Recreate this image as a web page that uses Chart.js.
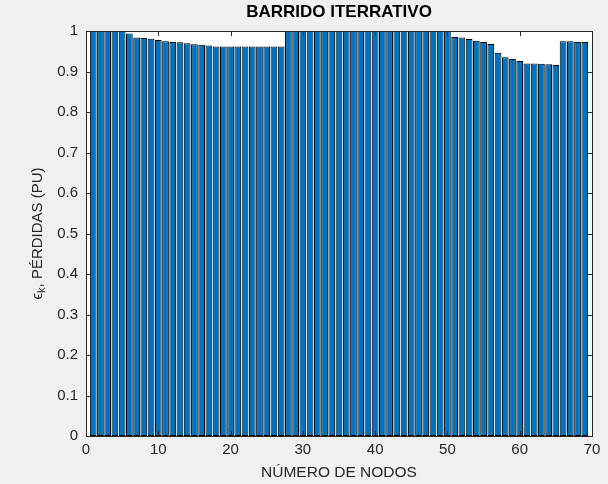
<!DOCTYPE html>
<html>
<head>
<meta charset="utf-8">
<script src="https://cdn.jsdelivr.net/npm/chart.js@4/dist/chart.umd.min.js"></script>
<style>
  html, body { margin: 0; padding: 0; background: #f0f0f0; }
  #wrap { width: 608px; height: 484px; }
</style>
</head>
<body>
<div id="wrap"><canvas id="c" width="608" height="484"></canvas></div>
<script>
const chartTitle = 'BARRIDO ITERRATIVO';
const xTitle = 'NÚMERO DE NODOS';
const yTitleMain = 'ϵ';
const yTitleSub = 'k';
const yTitleRest = ', PÉRDIDAS (PU)';

const nodes = [1,2,3,4,5,6,7,8,9,10,11,12,13,14,15,16,17,18,19,20,21,22,23,24,25,26,27,28,29,30,31,32,33,34,35,36,37,38,39,40,41,42,43,44,45,46,47,48,49,50,51,52,53,54,55,56,57,58,59,60,61,62,63,64,65,66,67,68,69];
const losses = [
  1, 1, 1, 1, 1,
  0.994, 0.984, 0.983, 0.981, 0.978, 0.975, 0.973, 0.972, 0.970, 0.967, 0.966, 0.964,
  0.962, 0.962, 0.962, 0.962, 0.962, 0.962, 0.962, 0.962, 0.962, 0.962,
  1, 1, 1, 1, 1, 1, 1, 1, 1, 1, 1, 1, 1, 1, 1, 1, 1, 1, 1, 1, 1, 1, 1,
  0.985, 0.984, 0.980, 0.976, 0.973, 0.968, 0.946, 0.935, 0.931, 0.926,
  0.920, 0.920, 0.919, 0.918, 0.916, 0.975, 0.975, 0.973, 0.973
];
const xTicks = [0, 10, 20, 30, 40, 50, 60, 70];
const yTicks = [0, 0.1, 0.2, 0.3, 0.4, 0.5, 0.6, 0.7, 0.8, 0.9, 1];

const axisColor = '#262626';
const fontFamily = '"Liberation Sans", Arial, Helvetica, sans-serif';

const matlabPlugin = {
  id: 'matlabLook',
  beforeDraw(chart) {
    const ctx = chart.ctx;
    const a = chart.chartArea;
    ctx.save();
    ctx.fillStyle = '#f0f0f0';
    ctx.fillRect(0, 0, chart.width, chart.height);
    ctx.fillStyle = '#ffffff';
    ctx.fillRect(a.left, a.top, a.right - a.left, a.bottom - a.top);
    ctx.restore();
  },
  afterDraw(chart) {
    const ctx = chart.ctx;
    const a = chart.chartArea;
    const xs = chart.scales.x, ys = chart.scales.y;
    const tl = 5;
    ctx.save();
    ctx.strokeStyle = axisColor;
    ctx.lineWidth = 1;
    ctx.beginPath();
    xTicks.forEach(v => {
      const px = Math.round(xs.getPixelForValue(v)) + 0.5;
      ctx.moveTo(px, a.bottom); ctx.lineTo(px, a.bottom - tl);
      ctx.moveTo(px, a.top); ctx.lineTo(px, a.top + tl);
    });
    yTicks.forEach(v => {
      const py = Math.round(ys.getPixelForValue(v)) + 0.5;
      ctx.moveTo(a.left, py); ctx.lineTo(a.left + tl, py);
      ctx.moveTo(a.right, py); ctx.lineTo(a.right - tl, py);
    });
    ctx.stroke();
    ctx.strokeRect(Math.round(a.left) + 0.5, Math.round(a.top) + 0.5,
                   Math.round(a.right - a.left), Math.round(a.bottom - a.top));
    // y axis title with subscript
    const cy = (a.top + a.bottom) / 2;
    ctx.translate(38, cy);
    ctx.rotate(-Math.PI / 2);
    ctx.fillStyle = axisColor;
    ctx.textBaseline = 'middle';
    ctx.textAlign = 'left';
    const big = '15px ' + fontFamily;
    const small = '11px ' + fontFamily;
    ctx.font = big;
    const w1 = ctx.measureText(yTitleMain).width;
    const w3 = ctx.measureText(yTitleRest).width;
    ctx.font = small;
    const w2 = ctx.measureText(yTitleSub).width;
    const total = w1 + w2 + w3;
    let x0 = -total / 2;
    ctx.font = big;
    ctx.fillText(yTitleMain, x0, 0);
    x0 += w1;
    ctx.font = small;
    ctx.fillText(yTitleSub, x0, 4);
    x0 += w2;
    ctx.font = big;
    ctx.fillText(yTitleRest, x0, 0);
    ctx.restore();
  }
};

new Chart(document.getElementById('c'), {
  type: 'bar',
  data: {
    datasets: [{
      data: nodes.map((n, i) => ({ x: n, y: losses[i] })),
      backgroundColor: '#0072BD',
      borderColor: '#000000',
      borderWidth: 1,
      borderSkipped: false,
      barPercentage: 0.93,
      categoryPercentage: 1.0
    }]
  },
  options: {
    responsive: false,
    animation: false,
    events: [],
    layout: { padding: { left: 0, right: 16, top: 0, bottom: 0 } },
    plugins: {
      legend: { display: false },
      tooltip: { enabled: false },
      title: {
        display: true,
        fullSize: false,
        text: chartTitle,
        color: '#000000',
        font: { family: fontFamily, size: 17, weight: 'bold' },
        padding: { top: 2.3, bottom: 8.3 }
      }
    },
    scales: {
      x: {
        type: 'linear',
        min: 0, max: 70,
        offset: false,
        grid: { display: false, drawTicks: false },
        border: { display: false },
        afterBuildTicks: s => { s.ticks = xTicks.map(v => ({ value: v })); },
        ticks: {
          color: axisColor,
          font: { family: fontFamily, size: 15 },
          padding: 5,
          maxRotation: 0,
          autoSkip: false
        },
        title: {
          display: true,
          text: xTitle,
          color: axisColor,
          font: { family: fontFamily, size: 15.5 },
          padding: { top: 0, bottom: 2 }
        },
        afterFit: s => { s.height = 48; }
      },
      y: {
        min: 0, max: 1,
        grid: { display: false, drawTicks: false },
        border: { display: false },
        afterBuildTicks: s => { s.ticks = yTicks.map(v => ({ value: v })); },
        ticks: {
          color: axisColor,
          font: { family: fontFamily, size: 15 },
          padding: 8,
          callback: v => String(Math.round(v * 10) / 10)
        },
        afterFit: s => { s.width = 86; }
      }
    }
  },
  plugins: [matlabPlugin]
});
</script>
</body>
</html>
